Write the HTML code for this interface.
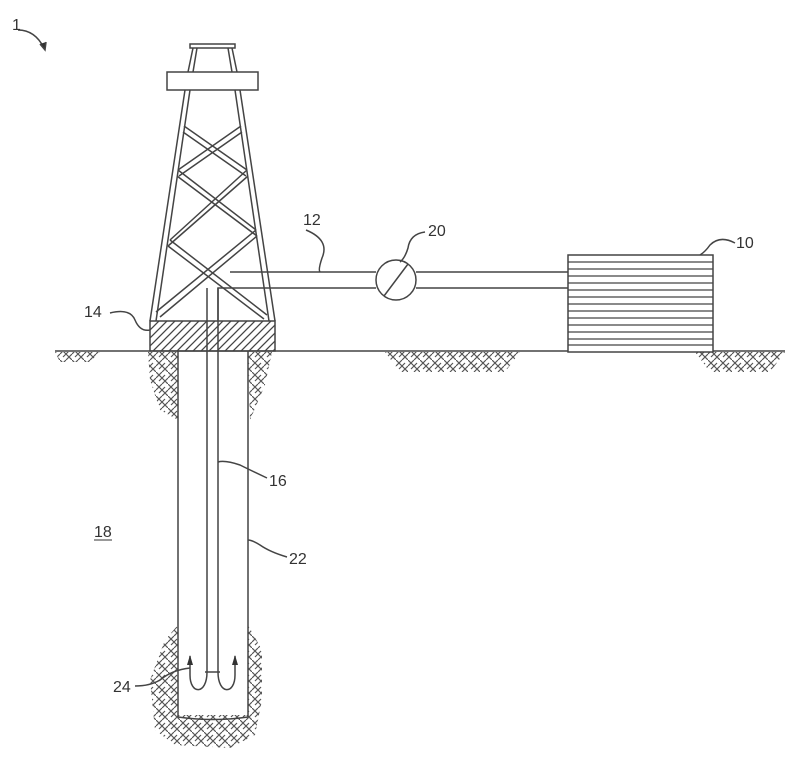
<!DOCTYPE html>
<html><head><style>
html,body{margin:0;padding:0;background:#fff;}
svg{display:block;}
text{font-family:"Liberation Sans",sans-serif;font-size:16px;fill:#333;}
</style></head><body>
<svg width="800" height="763" viewBox="0 0 800 763" xmlns="http://www.w3.org/2000/svg">
<defs>
<pattern id="earth" width="12" height="12" patternUnits="userSpaceOnUse">
<path d="M0 6 L6 0 M3 9 L9 3 M6 12 L12 6 M0 0 L6 6 M6 6 L12 12" stroke="#555" stroke-width="1.2" fill="none"/>
</pattern>
<pattern id="hatch" width="8" height="8" patternUnits="userSpaceOnUse">
<path d="M0 8 L8 0 M-2 2 L2 -2 M6 10 L10 6" stroke="#444" stroke-width="1.3"/>
</pattern>
<marker id="ah" markerWidth="10" markerHeight="8" refX="9" refY="3" orient="auto" markerUnits="userSpaceOnUse"><path d="M0 0 L10 3 L0 6Z" fill="#333"/></marker>
</defs>
<g stroke="#444" fill="none" stroke-width="1.5">
<path d="M148 352 L178 352 L178 420 L160 410 L150 380Z" fill="url(#earth)" stroke="none"/>
<path d="M248 352 L272 352 L265 385 L250 420Z" fill="url(#earth)" stroke="none"/>
<path d="M55 352 L100 352 L90 362 L60 362Z" fill="url(#earth)" stroke="none"/>
<path d="M385 352 L520 352 L505 372 L400 372Z" fill="url(#earth)" stroke="none"/>
<path d="M695 352 L785 352 L770 372 L710 372Z" fill="url(#earth)" stroke="none"/>
<path d="M178 625 L165 640 L150 680 L155 730 L175 745 L230 748 L255 735 L262 700 L262 650 L248 625 L248 715 L178 715Z" fill="url(#earth)" stroke="none"/>
<line x1="55" y1="351" x2="785" y2="351"/>
<line x1="178" y1="351" x2="178" y2="717"/>
<line x1="248" y1="351" x2="248" y2="717"/>
<path d="M178 717 Q213 722 248 717"/>
<line x1="207" y1="288" x2="207" y2="672"/>
<line x1="218" y1="288" x2="218" y2="672"/>
<line x1="205" y1="672" x2="220" y2="672"/>
<path d="M218 320 L218 288 L376 288"/>
<path d="M230 272 L376 272"/>
<path d="M416 272 L568 272 M416 288 L568 288"/>
<circle cx="396" cy="280" r="20" fill="#fff"/>
<line x1="384" y1="296" x2="408" y2="264"/>
<rect x="568" y="255" width="145" height="97" fill="#fff"/>
<g stroke-width="1.2">
<line x1="568" y1="262" x2="713" y2="262"/><line x1="568" y1="269" x2="713" y2="269"/>
<line x1="568" y1="276" x2="713" y2="276"/><line x1="568" y1="283" x2="713" y2="283"/>
<line x1="568" y1="290" x2="713" y2="290"/><line x1="568" y1="297" x2="713" y2="297"/>
<line x1="568" y1="304" x2="713" y2="304"/><line x1="568" y1="311" x2="713" y2="311"/>
<line x1="568" y1="318" x2="713" y2="318"/><line x1="568" y1="325" x2="713" y2="325"/>
<line x1="568" y1="332" x2="713" y2="332"/><line x1="568" y1="339" x2="713" y2="339"/>
<line x1="568" y1="345" x2="713" y2="345"/>
</g>
<rect x="190" y="44" width="45" height="4"/>
<line x1="193" y1="48" x2="188" y2="72"/><line x1="197" y1="48" x2="193" y2="72"/>
<line x1="232" y1="48" x2="237" y2="72"/><line x1="228" y1="48" x2="232" y2="72"/>
<rect x="167" y="72" width="91" height="18" fill="#fff"/>
<line x1="185" y1="90" x2="150" y2="321"/><line x1="190" y1="90" x2="156" y2="321"/>
<line x1="240" y1="90" x2="275" y2="321"/><line x1="235" y1="90" x2="269" y2="321"/>
<path d="M184 126 L247 170 M183 132 L246 176"/>
<path d="M241 126 L178 170 M242 132 L179 176"/>
<path d="M178 170 L256 230 M177 176 L257 236"/>
<path d="M247 170 L170 240 M248 176 L168 246"/>
<path d="M170 240 L267 315 M168 246 L264 319"/>
<path d="M256 230 L156 312 M257 236 L160 317"/>
<rect x="150" y="321" width="125" height="30" fill="url(#hatch)"/>
<path d="M207 672 C207 695 190 695 190 675 L190 656" marker-end="url(#ah)"/>
<path d="M218 672 C218 695 235 695 235 675 L235 656" marker-end="url(#ah)"/>
<path d="M18 30 Q35 30 44 48" /><path d="M40 44 L45 50 L46 42" fill="#333"/>
<path d="M110 313 Q130 308 135 320 Q140 332 150 330"/>
<path d="M306 230 Q330 240 322 258 Q318 270 320 272"/>
<path d="M425 232 Q410 234 408 248 Q405 258 400 262"/>
<path d="M735 243 Q720 235 710 245 Q705 252 700 255"/>
<path d="M267 478 Q250 470 240 465 Q225 460 218 462"/>
<path d="M287 557 Q270 552 260 545 Q252 540 248 540"/>
<path d="M135 686 Q150 686 160 680 Q172 670 190 668"/>
</g>
<text x="12" y="30">1</text>
<text x="84" y="317">14</text>
<text x="303" y="225">12</text>
<text x="428" y="236">20</text>
<text x="736" y="248">10</text>
<text x="269" y="486">16</text>
<text x="289" y="564">22</text>
<text x="94" y="537">18</text>
<line x1="94" y1="540" x2="112" y2="540" stroke="#333" stroke-width="1"/>
<text x="113" y="692">24</text>
</svg>
</body></html>
